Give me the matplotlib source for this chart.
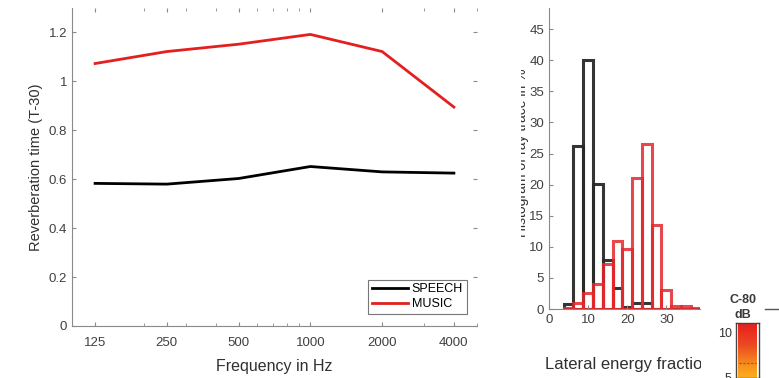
import numpy as np
import matplotlib
matplotlib.use('Agg')
import matplotlib.pyplot as plt
from matplotlib.patches import Rectangle
from matplotlib.colors import LinearSegmentedColormap

plt.rcParams['font.family'] = ['Liberation Sans', 'DejaVu Sans']

# reverberation time per octave band
freqs = [125, 250, 500, 1000, 2000, 4000]
speech_t30 = [0.583, 0.580, 0.603, 0.652, 0.630, 0.625]
music_t30 = [1.073, 1.122, 1.152, 1.192, 1.122, 0.895]

# histogram of lateral energy fraction (bin centres, % of rays)
lef_bins = [5, 7.5, 10, 12.5, 15, 17.5, 20, 22.5, 25, 27.5, 30, 32.5, 35, 37.5]
speech_hist = [0.85, 26.2, 40.1, 20.1, 7.8, 3.3, 0.3, 0.9, 0.9, 0, 0, 0, 0, 0]
music_hist = [0.2, 0.9, 2.6, 4.0, 7.2, 11.0, 9.7, 21.0, 26.5, 13.5, 3.0, 0.5, 0.5, 0.2]

W, H = 779, 378
fig = plt.figure(figsize=(W / 100, H / 100), dpi=100)
txt = '#404040'
spine = '#8a8a8a'

# ---- left: T-30 vs frequency
ax = fig.add_axes([72 / W, 1 - 326 / H, 405 / W, 318 / H])
ax.plot(freqs, speech_t30, color='black', lw=2.0, label='SPEECH')
ax.plot(freqs, music_t30, color='#e41f1f', lw=2.0, label='MUSIC')
ax.set_xscale('log')
ax.set_xlim(100, 5000)
ax.set_ylim(0, 1.3)
ax.set_xticks(freqs)
ax.set_xticklabels([str(f) for f in freqs])
ax.set_yticks([0, 0.2, 0.4, 0.6, 0.8, 1.0, 1.2])
ax.set_yticklabels(['0', '0.2', '0.4', '0.6', '0.8', '1', '1.2'])
ax.tick_params(which='both', direction='in', top=True, right=True, colors=spine,
               labelcolor=txt, labelsize=9.5, length=3)
ax.tick_params(which='minor', length=2)
ax.tick_params(axis='x', pad=8)
for s in ['top', 'right']:
    ax.spines[s].set_visible(False)
for s in ['left', 'bottom']:
    ax.spines[s].set_color(spine)
ax.set_xlabel('Frequency in Hz', fontsize=11.5, color='#303030', labelpad=7)
ax.set_ylabel('Reverberation time (T-30)', fontsize=10.5, color='#303030', labelpad=4)
leg = ax.legend(loc='lower right', bbox_to_anchor=(0.975, 0.037), fontsize=9,
                fancybox=False, edgecolor='#555555', handlelength=2.9,
                handletextpad=0.3, borderpad=0.3, labelspacing=0.25,
                borderaxespad=0)
leg.get_frame().set_linewidth(0.8)

# ---- right: histogram of lateral energy fraction
ah = fig.add_axes([549 / W, 1 - 309 / H, 151 / W, 301 / H])
ah.bar(lef_bins, speech_hist, width=2.5, facecolor='none', edgecolor='#2a2a2a',
       lw=2.2, alpha=0.95)
ah.bar(lef_bins, music_hist, width=2.5, facecolor='none', edgecolor='#e5282c',
       lw=2.2, alpha=0.85)
ah.set_xlim(0, 38.6)
ah.set_ylim(0, 48.4)
ah.set_xticks([0, 10, 20, 30])
ah.set_yticks(range(0, 46, 5))
ah.tick_params(direction='in', colors=spine, labelcolor=txt, labelsize=9.5, length=3)
for s in ['top', 'right']:
    ah.spines[s].set_visible(False)
for s in ['left', 'bottom']:
    ah.spines[s].set_color(spine)
# y label of the histogram is half hidden in the original layout
fig.text(529 / W, 1 - 153 / H, 'Histogram of ray trace in %', rotation=90,
         ha='right', va='center', fontsize=10, color='#303030')
fig.patches.append(Rectangle((480 / W, 60 / H), 41 / W, 260 / H,
                             transform=fig.transFigure, facecolor='white',
                             edgecolor='none', zorder=10))
fig.text(545 / W, 1 - 364 / H, 'Lateral energy fraction', ha='left', va='center',
         fontsize=12, color='#303030')
fig.patches.append(Rectangle((701 / W, 0), 28 / W, 40 / H,
                             transform=fig.transFigure, facecolor='white',
                             edgecolor='none', zorder=10))

# ---- colorbar fragment (C-80)
ac = fig.add_axes([736 / W, 0, 23 / W, 55 / H], zorder=11)
cmap = LinearSegmentedColormap.from_list('c80', ['#ffc414', '#f7931e', '#ec4a22', '#e8201e'])
grad = np.linspace(0, 1, 100).reshape(-1, 1)
ac.imshow(grad, aspect='auto', cmap=cmap, origin='lower', extent=[0.1, 0.9, 4.0, 10.9])
ac.set_xlim(0, 1)
ac.set_ylim(5.2, 11.06)
ac.axhline(6.7, xmin=0.12, xmax=0.88, color='#a0522d', lw=0.8, ls=(0, (2, 1.5)))
ac.set_xticks([])
ac.set_yticks([5, 10])
ac.tick_params(length=0, labelsize=9, labelcolor='#333333', pad=3)
for s in ac.spines.values():
    s.set_color('#444444')
    s.set_linewidth(1)
fig.text(743 / W, 1 - 300 / H, 'C-80', ha='center', va='center', fontsize=9,
         fontweight='bold', color='#3a3a3a')
fig.text(743 / W, 1 - 315 / H, 'dB', ha='center', va='center', fontsize=9,
         fontweight='bold', color='#3a3a3a')
fig.add_artist(plt.Line2D([765 / W, 1.0], [1 - 309 / H, 1 - 309 / H],
                          color='#555555', lw=1))

fig.savefig('out.png', dpi=100)
